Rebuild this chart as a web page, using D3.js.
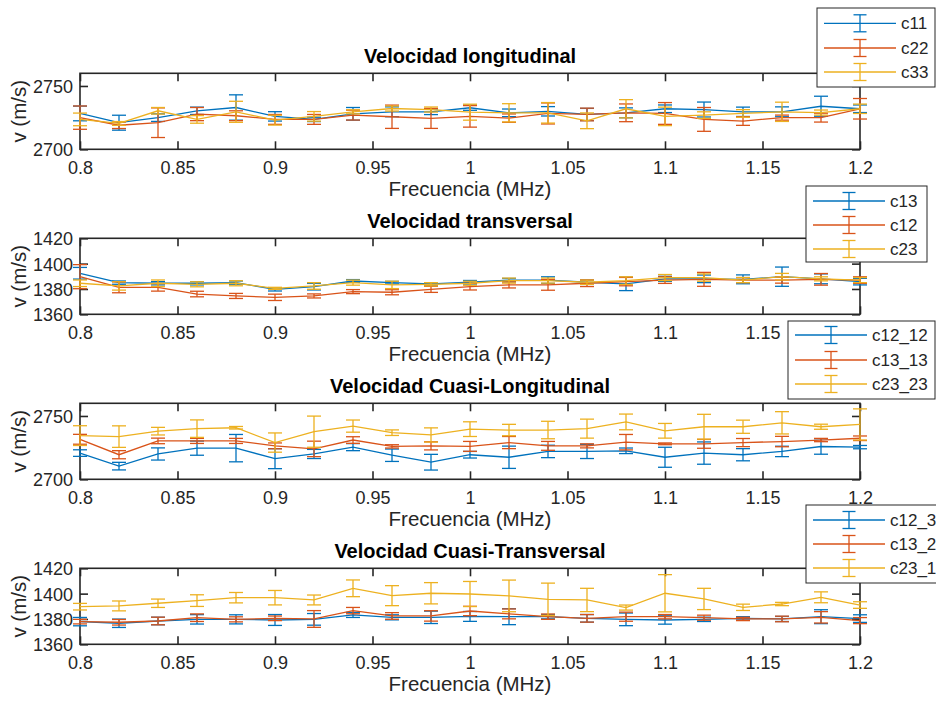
<!DOCTYPE html>
<html>
<head>
<meta charset="utf-8">
<script src="https://cdn.jsdelivr.net/npm/d3@7/dist/d3.min.js"></script>
<style>
  html, body { margin: 0; padding: 0; background: #fff; overflow: hidden; }
  svg { display: block; font-family: "Liberation Sans", Arial, Helvetica, sans-serif; }
</style>
</head>
<body>
<svg id="chart" width="936" height="704"></svg>
<script>
// ---------- DATA ----------
const freq = [0.80, 0.82, 0.84, 0.86, 0.88, 0.90, 0.92, 0.94, 0.96, 0.98, 1.00,
              1.02, 1.04, 1.06, 1.08, 1.10, 1.12, 1.14, 1.16, 1.18, 1.20];
const xTicks = [0.8, 0.85, 0.9, 0.95, 1, 1.05, 1.1, 1.15, 1.2];

// Subplot 1: Velocidad longitudinal
const c11 = [2728.3, 2721, 2725, 2730.4, 2733, 2726, 2723.6, 2728, 2729.6, 2729.6, 2732.8,
             2728.8, 2730, 2727.5, 2728.8, 2732, 2731.4, 2729.6, 2729.6, 2734, 2732];
const c11Err = [5.8, 5.9, 3, 2.9, 10, 3.7, 1.7, 5, 3.9, 2.2, 2,
                3, 3.7, 4.8, 3.9, 3, 5.9, 3.7, 3.9, 7.9, 3];
const c22 = [2725, 2719, 2721, 2727.8, 2726.5, 2723.6, 2723.6, 2727, 2725.7, 2724.4, 2726,
             2724.6, 2728.3, 2727.5, 2728.8, 2728.3, 2723.6, 2722.3, 2725, 2725, 2732];
const c22Err = [9.2, 2.6, 11.7, 5.2, 3.9, 3.9, 3.9, 3.9, 9.2, 7.9, 8.5,
                3.3, 8.3, 5, 7, 8.6, 9.4, 3.4, 2, 3.5, 8.1];
const c33 = [2723.6, 2720.4, 2730.4, 2723.6, 2729.6, 2723, 2726, 2729.6, 2732.2, 2731.4, 2729.3,
             2728.8, 2728.8, 2722.5, 2732, 2726, 2727, 2728.3, 2729.6, 2729, 2732];
const c33Err = [5, 1.5, 2.6, 3, 8.3, 3.9, 3.8, 1.6, 2, 2, 6.3,
                7.2, 8.1, 6.2, 7.2, 7.3, 2.6, 3, 7.6, 2, 3.7];

// Subplot 2: Velocidad transversal
const c13 = [1392.4, 1385, 1384.5, 1384.5, 1385, 1379.7, 1381.8, 1386.3, 1385, 1384, 1385.3,
             1387, 1387, 1385.3, 1384, 1388, 1388, 1387.6, 1389.7, 1388, 1385.8];
const c13Err = [4.6, 1.3, 1.3, 1.3, 1.3, 1.3, 2.6, 1.1, 1, 1, 1.4,
                1.3, 2.6, 1.7, 5.3, 2, 3, 3.5, 7.6, 3.9, 2.6];
const c12 = [1389.7, 1381.3, 1381.3, 1376, 1374.5, 1373.4, 1374.5, 1377.9, 1377.4, 1379.7, 1381.8,
             1383.2, 1383.2, 1384.5, 1385.8, 1387, 1387.6, 1387, 1387, 1387.6, 1387];
const c12Err = [9.5, 4.3, 3, 2.2, 2, 2.5, 1.6, 1.6, 2, 2.4, 2.6,
                2.4, 4.2, 2.6, 3.3, 2.6, 5.5, 2, 2.4, 4.6, 2.6];
const c23 = [1384.5, 1382.4, 1384.5, 1383.7, 1384.5, 1380.5, 1382.4, 1385, 1383.2, 1383.7, 1384.5,
             1386.6, 1386.6, 1385.3, 1386.6, 1389, 1389, 1387, 1389.7, 1388, 1387];
const c23Err = [2.6, 3.3, 2.6, 2, 2, 0.8, 2.6, 2, 2.9, 1.3, 1.6,
                2, 2, 1.7, 3, 2.4, 2.9, 2, 2.6, 1.6, 2];

// Subplot 3: Velocidad Cuasi-Longitudinal
const c12_12 = [2720.7, 2710.4, 2720, 2724.6, 2724.6, 2716.3, 2720, 2725.4, 2719, 2713.5, 2719.4,
                2717.4, 2722, 2722, 2722.5, 2717.4, 2720.7, 2719.4, 2722, 2725.9, 2725.4];
const c12_12Err = [2.6, 3, 4.8, 5.6, 10.8, 7.9, 3.6, 2.8, 4.9, 6.2, 2.6,
                   8.8, 4.9, 5.6, 2.2, 7.9, 8.8, 4.8, 4.1, 6.1, 1.3];
const c13_13 = [2731.6, 2719.4, 2730.3, 2730.3, 2730.3, 2726.4, 2724, 2731, 2726, 2726.4, 2726,
                2729, 2726.4, 2726.4, 2729.3, 2728, 2728, 2729, 2729.8, 2731, 2732.4];
const c13_13Err = [3.9, 3.2, 2.2, 2, 2, 2.3, 6.1, 2.6, 1.3, 3.2, 3.9,
                   4.8, 3.5, 1.6, 6.1, 0.7, 3.5, 3.2, 4.1, 1.3, 1.8];
const c23_23 = [2734.5, 2733.7, 2738, 2740, 2740.7, 2729, 2737.6, 2742, 2736.8, 2735, 2739.6,
                2738.9, 2738.9, 2740, 2745.3, 2738.3, 2741.5, 2741.5, 2744.6, 2741.5, 2743.3];
const c23_23Err = [7.8, 8.5, 3, 6.9, 1, 7.6, 12.3, 4.8, 2.2, 5.6, 5.8,
                   4.5, 6.9, 7.5, 6.2, 5.8, 9.8, 5.2, 8.8, 2, 12.3];

// Subplot 4: Velocidad Cuasi-Transversal
const c12_3 = [1377.9, 1376.6, 1378.4, 1379.7, 1379.7, 1379.2, 1379.7, 1383.2, 1381.3, 1381.3, 1382,
               1381.8, 1381.8, 1380.5, 1379.7, 1379.2, 1379.7, 1380.5, 1380, 1381.8, 1380.3];
const c12_3Err = [3.3, 3.3, 3, 3.7, 3.6, 4.3, 4.6, 2, 2, 4.9, 3.9,
                  6.3, 1.7, 3, 5, 3.3, 1.7, 1.3, 2, 5.5, 3];
const c13_2 = [1377.9, 1377.4, 1378.4, 1381, 1379.7, 1380.5, 1380, 1386.6, 1382.4, 1382.4, 1386.3,
               1384, 1381.8, 1380.5, 1381.8, 1381.8, 1381, 1380, 1380, 1381.3, 1378.7];
const c13_2Err = [1.8, 2.2, 3, 3, 2, 1.8, 6.6, 2.5, 2.6, 4.1, 3.7,
                  3.9, 2.1, 3, 3.6, 1.7, 2, 1.3, 2.2, 4.5, 2.4];
const c23_1 = [1389.7, 1390.3, 1392.4, 1394.5, 1396.8, 1396.8, 1395, 1404.2, 1398.4, 1400.3, 1399.7,
               1398.2, 1395.5, 1395, 1389, 1400.3, 1395.8, 1389.2, 1391.8, 1397.1, 1391];
const c23_1Err = [2.6, 3.9, 3.3, 4.6, 4.1, 5.7, 3.9, 6.6, 7.9, 8.4, 9.9,
                  12.5, 12.8, 9.2, 2, 14.7, 8.4, 2.5, 1.3, 4.3, 2.6];

const titles = ["Velocidad longitudinal", "Velocidad transversal",
                "Velocidad Cuasi-Longitudinal", "Velocidad Cuasi-Transversal"];
const yDomains = [[2700, 2760], [1360, 1420], [2700, 2760], [1360, 1420]];
const yTicks = [[2700, 2750], [1360, 1380, 1400, 1420], [2700, 2750], [1360, 1380, 1400, 1420]];
const seriesNames = [["c11", "c22", "c33"], ["c13", "c12", "c23"],
                     ["c12_12", "c13_13", "c23_23"], ["c12_3", "c13_2", "c23_1"]];
const seriesValues = [[c11, c22, c33], [c13, c12, c23],
                      [c12_12, c13_13, c23_23], [c12_3, c13_2, c23_1]];
const seriesErrors = [[c11Err, c22Err, c33Err], [c13Err, c12Err, c23Err],
                      [c12_12Err, c13_13Err, c23_23Err], [c12_3Err, c13_2Err, c23_1Err]];
const xLabel = "Frecuencia (MHz)";
const yLabel = "v (m/s)";

// ---------- STYLE / LAYOUT ----------
const colors = ["#0072BD", "#D95319", "#EDB120"];
const axisColor = "#262626";
const left = 80, right = 860;
const tops = [73.3, 238.3, 403.3, 568.3];
const plotH = 76;
const legends = [
  {x: 817, y: 8, w: 118, h: 79, rows: [23.3, 48, 72], lx0: 824, lx1: 896, tx: 901},
  {x: 806, y: 186, w: 121, h: 76, rows: [201, 225, 249], lx0: 813, lx1: 885, tx: 890},
  {x: 788, y: 321, w: 147, h: 78, rows: [335, 360, 384], lx0: 795, lx1: 867, tx: 872},
  {x: 806, y: 505, w: 150, h: 78, rows: [520, 544, 568], lx0: 813, lx1: 885, tx: 890}
];

const svg = d3.select("#chart");
const x = d3.scaleLinear().domain([0.8, 1.2]).range([left, right]);

for (let p = 0; p < 4; p++) {
  const top = tops[p], bottom = top + plotH;
  const y = d3.scaleLinear().domain(yDomains[p]).range([bottom, top]);
  const g = svg.append("g");

  // Axes (MATLAB style, ticks inside, box)
  const tickLen = 8;
  const gxB = g.append("g").attr("transform", `translate(0,${bottom})`)
    .call(d3.axisBottom(x).tickValues(xTicks).tickSizeInner(-tickLen).tickSizeOuter(0)
      .tickFormat(d => String(+d.toFixed(2))));
  const gxT = g.append("g").attr("transform", `translate(0,${top})`)
    .call(d3.axisTop(x).tickValues(xTicks).tickSizeInner(-tickLen).tickSizeOuter(0).tickFormat(""));
  const gyL = g.append("g").attr("transform", `translate(${left},0)`)
    .call(d3.axisLeft(y).tickValues(yTicks[p]).tickSizeInner(-tickLen).tickSizeOuter(0)
      .tickFormat(d3.format("d")));
  const gyR = g.append("g").attr("transform", `translate(${right},0)`)
    .call(d3.axisRight(y).tickValues(yTicks[p]).tickSizeInner(-tickLen).tickSizeOuter(0).tickFormat(""));
  [gxB, gxT, gyL, gyR].forEach(a => {
    a.select(".domain").remove();
    a.selectAll(".tick line").attr("stroke", axisColor).attr("stroke-width", 1.6);
    a.selectAll(".tick text").attr("fill", axisColor).attr("font-size", 18)
      .attr("font-family", "'Liberation Sans', Arial, sans-serif");
  });
  gxB.selectAll(".tick text").attr("dy", "0.71em").attr("y", 12);
  gyL.selectAll(".tick text").attr("dy", "0.36em").attr("x", -7);
  // frame
  g.append("rect").attr("x", left).attr("y", top).attr("width", right - left).attr("height", plotH)
    .attr("fill", "none").attr("stroke", axisColor).attr("stroke-width", 1.6);

  // Series
  const capHalf = 7;
  seriesValues[p].forEach((vals, si) => {
    const errs = seriesErrors[p][si];
    const col = colors[si];
    const sg = g.append("g").attr("stroke", col).attr("stroke-width", 1.3).attr("fill", "none");
    const line = d3.line().x((d, i) => x(freq[i])).y(d => y(d));
    sg.append("path").attr("d", line(vals));
    const eb = sg.selectAll("g.eb").data(vals).join("g").attr("class", "eb");
    eb.append("line")
      .attr("x1", (d, i) => x(freq[i])).attr("x2", (d, i) => x(freq[i]))
      .attr("y1", (d, i) => y(d - errs[i])).attr("y2", (d, i) => y(d + errs[i]));
    eb.append("line")
      .attr("x1", (d, i) => x(freq[i]) - capHalf).attr("x2", (d, i) => x(freq[i]) + capHalf)
      .attr("y1", (d, i) => y(d + errs[i])).attr("y2", (d, i) => y(d + errs[i]));
    eb.append("line")
      .attr("x1", (d, i) => x(freq[i]) - capHalf).attr("x2", (d, i) => x(freq[i]) + capHalf)
      .attr("y1", (d, i) => y(d - errs[i])).attr("y2", (d, i) => y(d - errs[i]));
  });

  // Title
  g.append("text").attr("x", (left + right) / 2).attr("y", top - 10.5)
    .attr("text-anchor", "middle").attr("font-weight", "bold").attr("font-size", 20)
    .attr("fill", "#000").text(titles[p]);
  // X label
  g.append("text").attr("x", (left + right) / 2).attr("y", bottom + 47)
    .attr("text-anchor", "middle").attr("font-size", 20.5).attr("fill", axisColor).text(xLabel);
  // Y label
  g.append("text").attr("transform", `translate(26,${top + plotH / 2}) rotate(-90)`)
    .attr("text-anchor", "middle").attr("font-size", 20.5).attr("fill", axisColor).text(yLabel);
}

// Legends (drawn on top)
for (let p = 0; p < 4; p++) {
  const L = legends[p];
  const lg = svg.append("g");
  lg.append("rect").attr("x", L.x).attr("y", L.y).attr("width", L.w).attr("height", L.h)
    .attr("fill", "#fff").attr("stroke", axisColor).attr("stroke-width", 1);
  seriesNames[p].forEach((name, si) => {
    const ry = L.rows[si];
    const cx = (L.lx0 + L.lx1) / 2;
    const eg = lg.append("g").attr("stroke", colors[si]).attr("stroke-width", 1.3);
    eg.append("line").attr("x1", L.lx0).attr("x2", L.lx1).attr("y1", ry).attr("y2", ry);
    eg.append("line").attr("x1", cx).attr("x2", cx).attr("y1", ry - 8.5).attr("y2", ry + 8.5);
    eg.append("line").attr("x1", cx - 6.5).attr("x2", cx + 6.5).attr("y1", ry - 8.5).attr("y2", ry - 8.5);
    eg.append("line").attr("x1", cx - 6.5).attr("x2", cx + 6.5).attr("y1", ry + 8.5).attr("y2", ry + 8.5);
    lg.append("text").attr("x", L.tx).attr("y", ry).attr("dy", "0.36em")
      .attr("font-size", 17).attr("fill", axisColor).text(name);
  });
}
</script>
</body>
</html>
